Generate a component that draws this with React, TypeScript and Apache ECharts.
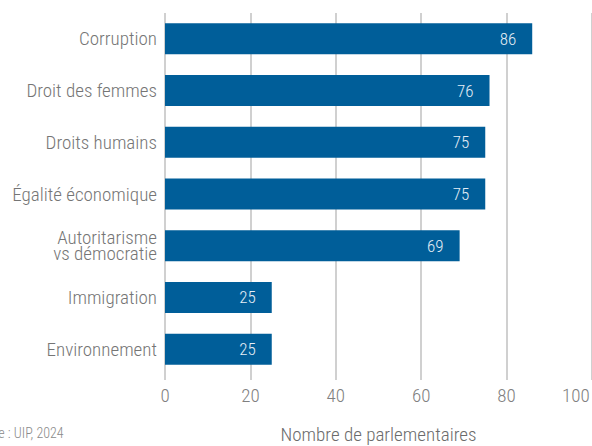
import React, { useEffect, useRef } from "react";
import * as echarts from "echarts";

const categories = [
  "Corruption",
  "Droit des femmes",
  "Droits humains",
  "Égalité économique",
  "Autoritarisme\nvs démocratie",
  "Immigration",
  "Environnement",
];
const values = [86, 76, 75, 75, 69, 25, 25];
const xTicks = [0, 20, 40, 60, 80, 100];
const axisTitle = "Nombre de parlementaires";
const sourceText = "Source : UIP, 2024";

const FONT = '"Roboto Condensed", "Liberation Sans Narrow", "DejaVu Sans Condensed", sans-serif';

export default function App() {
  const ref = useRef<HTMLDivElement>(null);
  useEffect(() => {
    document.body.style.margin = "0";
    const chart = echarts.init(ref.current!, null, { renderer: "svg" });
    const maxTick = xTicks[xTicks.length - 1];
    chart.setOption({
      animation: false,
      backgroundColor: "#ffffff",
      textStyle: { fontFamily: FONT, fontWeight: 300 },
      grid: {
        left: 165,
        right: 0,
        top: 13,
        bottom: 71,
        containLabel: false,
        outerBoundsMode: "none",
      },
      xAxis: {
        type: "value",
        min: xTicks[0],
        max: maxTick,
        interval: 20,
        name: axisTitle,
        nameLocation: "middle",
        nameGap: 50,
        nameTextStyle: { color: "#6b6b6b", fontSize: 19, fontFamily: FONT, fontWeight: 300 },
        axisLine: { show: false },
        axisTick: { show: true, length: 5, lineStyle: { color: "#d0d0d0", width: 2 } },
        splitLine: { show: true, lineStyle: { color: "#d0d0d0", width: 2 } },
        axisLabel: {
          color: "#808080",
          fontSize: 19,
          fontFamily: FONT,
          fontWeight: 300,
          margin: 11,
          hideOverlap: false,
          formatter: (v: number) => (v === maxTick ? `{last|${v}}` : `${v}`),
          rich: {
            last: {
              color: "#808080",
              fontSize: 19,
              fontFamily: FONT,
              fontWeight: 300,
              width: 60,
              align: "left",
            },
          },
        },
      },
      yAxis: {
        type: "category",
        data: categories,
        inverse: true,
        axisLine: { show: false },
        axisTick: { show: false },
        axisLabel: {
          color: "#757575",
          fontSize: 19,
          lineHeight: 16,
          fontFamily: FONT,
          fontWeight: 300,
          margin: 8,
        },
      },
      series: [
        {
          type: "bar",
          data: values,
          barWidth: 31,
          itemStyle: { color: "#005e99" },
          label: {
            show: true,
            position: "insideRight",
            distance: 16,
            color: "#e6eef6",
            fontSize: 17,
            fontFamily: FONT,
            fontWeight: 300,
          },
        },
      ],
      graphic: [
        {
          type: "text",
          left: -33,
          top: 426,
          style: { text: sourceText, fill: "#8a8a8a", fontSize: 14, fontFamily: FONT, fontWeight: 300 },
        },
      ],
    });
    return () => chart.dispose();
  }, []);
  return <div ref={ref} style={{ width: 592, height: 446 }} />;
}
